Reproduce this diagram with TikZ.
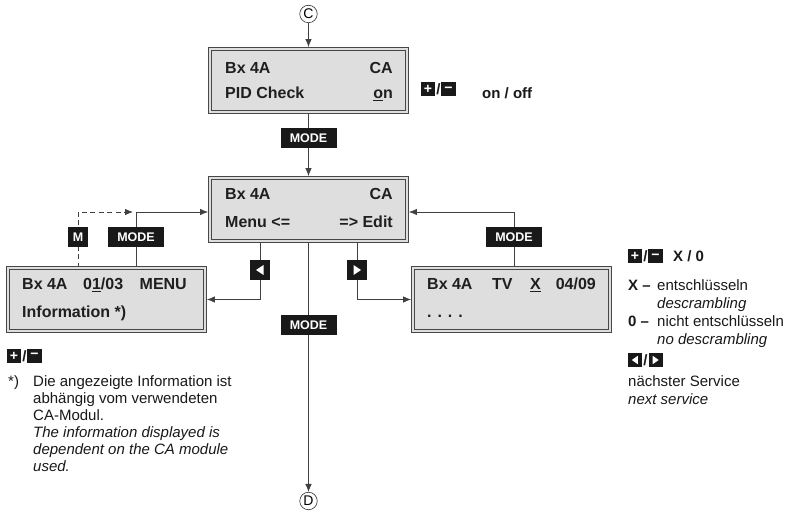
\documentclass[tikz,border=0pt]{standalone}
\usepackage{fontspec}
\setmainfont{Liberation Sans}
\usetikzlibrary{arrows.meta,backgrounds}
\begin{document}
\begin{tikzpicture}[x=1pt,y=-1pt,
  lcd/.style={draw=black!72, line width=0.65pt, double=black!13, double distance=2.4pt, fill=black!13, minimum width=197pt, minimum height=63pt, inner sep=0pt},
  lt/.style={font=\bfseries\fontsize{16}{16}\selectfont, inner sep=0pt, anchor=base west, text=black!88},
  rt/.style={lt, anchor=base east},
  keylbl/.style={fill=black!90, text=white, font=\bfseries\fontsize{12.5}{12.5}\selectfont, minimum width=56pt, minimum height=20pt, inner sep=0pt},
  tribtn/.style={fill=black!90, minimum width=20pt, minimum height=20pt, inner sep=0pt},
  smbtn/.style={fill=black!90, minimum width=14pt, minimum height=14pt, inner sep=0pt, text=white, font=\bfseries\fontsize{14}{14}\selectfont},
  conn/.style={circle, draw=black!80, line width=0.6pt, minimum size=17.5pt, inner sep=0pt, font=\fontsize{14}{14}\selectfont},
  arr/.style={draw=black!75, line width=0.8pt, -{Latex[length=8pt,width=6.5pt]}},
  arrb/.style={arr, shorten >=1.6pt},
  lg/.style={font=\fontsize{15}{15}\selectfont, inner sep=0pt, anchor=base west, text=black!90},
  lgb/.style={lg, font=\bfseries\fontsize{15}{15}\selectfont},
  lgi/.style={lg, font=\itshape\fontsize{15}{15}\selectfont},
  slash/.style={inner sep=0pt, font=\bfseries\fontsize{15}{15}\selectfont, text=black!90}
]
\useasboundingbox (0,0) rectangle (803,518);

% LCD boxes
\node[lcd] (top) at (308.5,80.5) {};
\node[lcd] (mid) at (308.5,209.5) {};
\node[lcd] (left) at (106.5,299.5) {};
\node[lcd] (right) at (511.5,299.5) {};

% texts in boxes
\node[lt] (ta) at (225,74) {Bx 4A};
\node[rt] (tb) at (393,74) {CA};
\node[lt] (tc) at (225,99) {PID Check};
\node[rt] (td) at (393,99) {\underline{o}n};

\node[lt] (ma) at (225,200) {Bx 4A};
\node[rt] (mb) at (393,200) {CA};
\node[lt] (mc) at (225,228) {Menu <=};
\node[rt] (md) at (393,228) {=> Edit};

\node[lt] (la) at (22,290) {Bx 4A};
\node[lt] (lb) at (83,290) {0\underline{1}/03};
\node[rt] (lc) at (187,290) {MENU};
\node[lt] (ld) at (22,318) {Information *)};

\node[lt] (ra) at (427,290) {Bx 4A};
\node[lt] (rb) at (492,290) {TV};
\node[lt] (rc) at (530,290) {\underline{X}};
\node[rt] (rd) at (596,290) {04/09};
\node[lt] (re) at (427,318) {. . . .};

% connectors C and D
\node[conn] (C) at (308.5,14) {C};
\node[conn] (D) at (308.5,501) {D};

% key labels
\node[keylbl] (mode1) at (308.5,138.5) {MODE};
\node[keylbl] (mode2) at (308.5,325) {MODE};
\node[keylbl] (mode3) at (136,237) {MODE};
\node[keylbl] (mode4) at (514,237) {MODE};
\node[keylbl, minimum width=20pt] (mkey) at (78,237) {M};

\node[tribtn] (lbtn) at (260,270) {};
\fill[white] ([xshift=-4pt]lbtn.center) -- ([xshift=3.5pt,yshift=5pt]lbtn.center) -- ([xshift=3.5pt,yshift=-5pt]lbtn.center) -- cycle;
\node[tribtn] (rbtn) at (357,270) {};
\fill[white] ([xshift=4pt]rbtn.center) -- ([xshift=-3.5pt,yshift=5pt]rbtn.center) -- ([xshift=-3.5pt,yshift=-5pt]rbtn.center) -- cycle;

\coordinate (dashend) at (133,212);

\begin{pgfonlayer}{background}
\fill[white] (0,0) rectangle (803,518);
\draw[arrb] (C) -- (top);
\draw[arrb] (top) -- (mid);
\draw[arr] (mid) -- (D);
\draw[arrb] (mid.south -| lbtn) |- (left.east);
\draw[arrb] (mid.south -| rbtn) |- (right.west);
\draw[arrb] (left.north -| mode3) |- ([yshift=-2.5pt]mid.west);
\draw[arr, dash pattern=on 5pt off 3.5pt] (left.north -| mkey) |- (dashend);
\draw[arrb] (right.north -| mode4) |- ([yshift=-2.5pt]mid.east);
\end{pgfonlayer}

% legend top
\node[smbtn] (p1) at (428,89.5) {+};
\node[slash] (s1) at (438.5,89.5) {/};
\node[smbtn, minimum width=15pt] (m1) at (448.5,89.5) {\char"2212};
\node[lgb] (oo) at (482,99) {on / off};

% legend left
\node[smbtn] (p2) at (14,356) {+};
\node[slash] (s2) at (24.5,356) {/};
\node[smbtn, minimum width=15pt] (m2) at (34.5,356) {\char"2212};

\node[lg] (f0) at (8,386) {*)};
\node[lg] (f1) at (33,386) {Die angezeigte Information ist};
\node[lg] (f2) at (33,403) {abhängig vom verwendeten};
\node[lg] (f3) at (33,420) {CA-Modul.};
\node[lgi] (f4) at (33,437) {The information displayed is};
\node[lgi] (f5) at (33,454) {dependent on the CA module};
\node[lgi] (f6) at (33,471) {used.};

% legend right
\node[smbtn] (p3) at (635,256.5) {+};
\node[slash] (s3) at (645.5,256.5) {/};
\node[smbtn, minimum width=15pt] (m3) at (655.5,256.5) {\char"2212};
\node[lgb] (x0) at (673,262) {X / 0};

\node[lgb] (xa) at (628,291) {X –};
\node[lg] (xb) at (657,291) {entschlüsseln};
\node[lgi] (xc) at (657,309) {descrambling};
\node[lgb] (xd) at (628,327) {0 –};
\node[lg] (xe) at (657,327) {nicht entschlüsseln};
\node[lgi] (xf) at (657,345) {no descrambling};

\node[smbtn] (lb2) at (635,360) {};
\fill[white] ([xshift=-3.2pt]lb2.center) -- ([xshift=2.8pt,yshift=4.2pt]lb2.center) -- ([xshift=2.8pt,yshift=-4.2pt]lb2.center) -- cycle;
\node[slash] (s4) at (645.5,360) {/};
\node[smbtn] (rb2) at (655.5,360) {};
\fill[white] ([xshift=3.2pt]rb2.center) -- ([xshift=-2.8pt,yshift=4.2pt]rb2.center) -- ([xshift=-2.8pt,yshift=-4.2pt]rb2.center) -- cycle;

\node[lg] (ns) at (628,386) {nächster Service};
\node[lgi] (nx) at (628,404) {next service};
\end{tikzpicture}
\end{document}
